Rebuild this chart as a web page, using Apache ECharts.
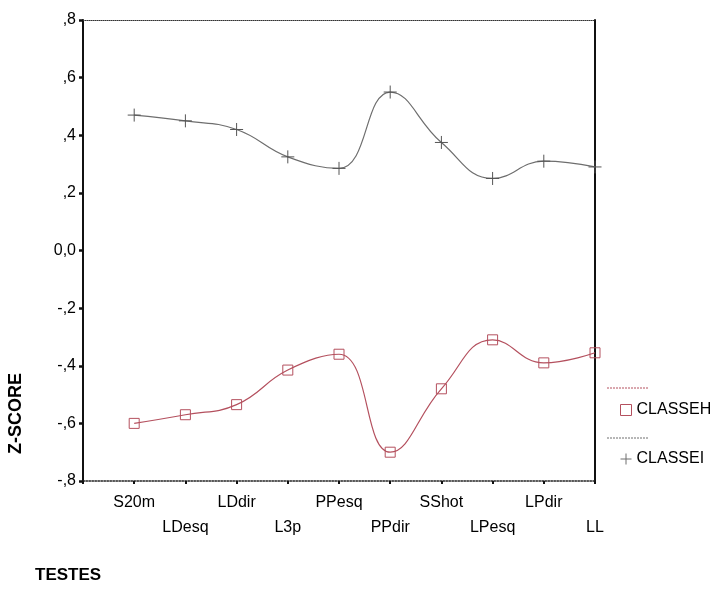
<!DOCTYPE html>
<html>
<head>
<meta charset="utf-8">
<script src="https://cdn.jsdelivr.net/npm/echarts@6/dist/echarts.min.js"></script>
<style>
html,body{margin:0;padding:0;background:#fff;}
#main{width:724px;height:590px;}
</style>
</head>
<body>
<div id="main"></div>
<script>
// categorias (testes) e z-scores por classe
var categories = ['S20m','LDesq','LDdir','L3p','PPesq','PPdir','SShot','LPesq','LPdir','LL'];
var classeH = [-0.60,-0.57,-0.535,-0.415,-0.36,-0.70,-0.48,-0.31,-0.39,-0.355];
var classeI = [0.47,0.45,0.42,0.325,0.285,0.55,0.375,0.25,0.31,0.29];

var FONT = '"Liberation Sans", Arial, sans-serif';
var RED = '#b4505e';
var GREY = '#6e6e6e';
var PLUS = 'path://M5,0L5,10M0,5L10,5';

function pts(arr){
    var out = [];
    for (var i = 0; i < arr.length; i++) {
        out.push([i + 1, arr[i]]);
    }
    return out;
}

function yLabel(v){
    var r = Math.round(v * 10) / 10;
    if (r === 0) return '0,0';
    var s = Math.abs(r).toFixed(1).replace('0.', ',');
    return (r < 0 ? '-' : '') + s;
}

var chart = echarts.init(document.getElementById('main'));
chart.setOption({
    backgroundColor: '#fff',
    animation: false,
    grid: {left: 83, right: 129, top: 20, bottom: 109},
    xAxis: [{
        type: 'value', min: 0, max: categories.length, interval: 1,
        position: 'bottom',
        splitLine: {show: false},
        axisLine: {onZero: false, lineStyle: {color: '#222', width: 1.5, type: 'dotted'}},
        axisTick: {length: 3, lineStyle: {color: '#111', width: 2}},
        axisLabel: {
            color: '#000', fontFamily: FONT, fontSize: 16, margin: 9, lineHeight: 25,
            formatter: function(v){
                if (v < 1 || v > categories.length) return '';
                var name = categories[v - 1];
                return (v % 2 === 0) ? '\n' + name : name;
            }
        }
    }, {
        type: 'value', min: 0, max: categories.length, position: 'top',
        splitLine: {show: false},
        axisLine: {onZero: false, lineStyle: {color: '#333', width: 1, type: 'dotted'}},
        axisTick: {show: false}, axisLabel: {show: false}
    }],
    yAxis: [{
        type: 'value', min: -0.8, max: 0.8, interval: 0.2,
        splitLine: {show: false},
        axisLine: {onZero: false, lineStyle: {color: '#111', width: 2}},
        axisTick: {length: 4, lineStyle: {color: '#111', width: 2.5}},
        axisLabel: {color: '#000', fontFamily: FONT, fontSize: 16, margin: 7, formatter: yLabel}
    }, {
        type: 'value', min: -0.8, max: 0.8, position: 'right',
        splitLine: {show: false},
        axisLine: {show: true, onZero: false, lineStyle: {color: '#111', width: 2}},
        axisTick: {show: false}, axisLabel: {show: false}
    }],
    legend: {
        orient: 'vertical', left: 613, top: 397, itemGap: 33,
        itemWidth: 11, itemHeight: 11, itemTextGap: 7,
        textStyle: {color: '#000', fontFamily: FONT, fontSize: 16},
        data: [
            {name: 'CLASSEH', icon: 'rect', itemStyle: {color: 'none', borderColor: RED, borderWidth: 1}},
            {name: 'CLASSEI', icon: PLUS, itemStyle: {color: 'none', borderColor: GREY, borderWidth: 1}}
        ]
    },
    graphic: [
        {type: 'line', shape: {x1: 607, y1: 388, x2: 648, y2: 388}, style: {stroke: RED, lineWidth: 1, lineDash: [2, 1]}},
        {type: 'line', shape: {x1: 607, y1: 438, x2: 648, y2: 438}, style: {stroke: GREY, lineWidth: 1, lineDash: [2, 1]}},
        {type: 'text', left: 7, top: 373, rotation: Math.PI / 2,
         style: {text: 'Z-SCORE', fill: '#000', font: 'bold 18px ' + FONT}},
        {type: 'text', left: 35, top: 567,
         style: {text: 'TESTES', fill: '#000', font: 'bold 17px ' + FONT}}
    ],
    series: [{
        name: 'CLASSEH', type: 'line', data: pts(classeH), smooth: 0.45,
        symbol: 'rect', symbolSize: 10,
        lineStyle: {color: RED, width: 1.2},
        itemStyle: {color: 'none', borderColor: RED, borderWidth: 1}
    }, {
        name: 'CLASSEI', type: 'line', data: pts(classeI), smooth: 0.45,
        symbol: PLUS, symbolSize: 13,
        lineStyle: {color: GREY, width: 1.2},
        itemStyle: {color: 'none', borderColor: '#555', borderWidth: 1}
    }]
});
</script>
</body>
</html>
